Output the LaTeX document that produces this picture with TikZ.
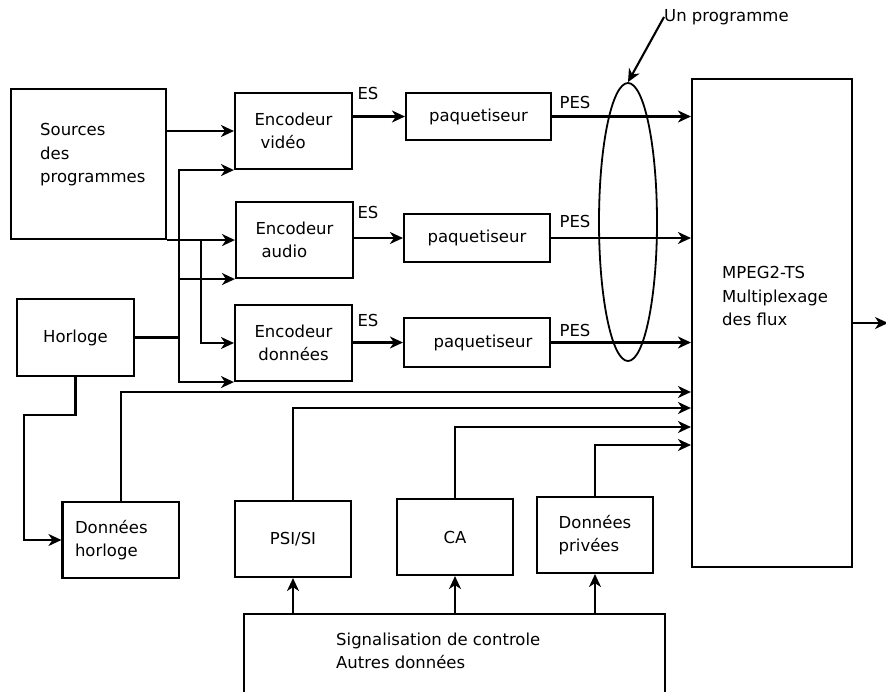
\documentclass[tikz,border=0pt]{standalone}
\usepackage{fontspec}
\setmainfont{DejaVu Sans}
\usetikzlibrary{arrows.meta,shapes.geometric}
\tikzset{
    box/.style={draw, line width=2.1pt, inner sep=2pt},
    lbl/.style={inner sep=0pt, align=left},
    wire/.style={line width=2.1pt},
    arr/.style={line width=2.1pt, -{Stealth[length=13pt,width=12pt,inset=4pt]}}
}

\begin{document}
\begin{tikzpicture}[x=1pt,y=-1pt,font=\fontsize{16.5}{23.5}\selectfont]
    \useasboundingbox (0,0) rectangle (886,691);
    \node[box, minimum width=155, minimum height=150] (src) at (88.5,164) {};
    \node[lbl, anchor=west] (srctxt) at (40,155) {Sources\\des\\programmes};
    \node[box, minimum width=117, minimum height=77] (hor) at (75.5,337.5) {Horloge};
    \node[box, minimum width=117, minimum height=76, align=left] (encV) at (293.5,131) {Encodeur\\\hspace*{6pt}vidéo};
    \node[box, minimum width=117, minimum height=76, align=left] (encA) at (294.5,240) {Encodeur\\\hspace*{6pt}audio};
    \node[box, minimum width=117, minimum height=76, align=center] (encD) at (293.5,343) {Encodeur\\données};
    \node[box, minimum width=145, minimum height=47] (paqV) at (478.5,116.5) {paquetiseur};
    \node[box, minimum width=146, minimum height=48] (paqA) at (477,238) {paquetiseur};
    \node[box, minimum width=146, minimum height=49] (paqD) at (477,342.5) {\hspace*{12pt}paquetiseur};
    \node[box, minimum width=160, minimum height=488] (mux) at (772,323) {};
    \node[lbl, anchor=west] (muxtxt) at (722,296) {MPEG2-TS\\Multiplexage\\des flux};
    \node[draw, ellipse, line width=1.8pt, inner sep=0pt, minimum width=58, minimum height=278] (prog) at (628,222) {};
    \node[lbl, anchor=west] (progtxt) at (664,17) {Un programme};
    \node[lbl] (esV) at (368,93) {ES};
    \node[lbl] (esA) at (368,212) {ES};
    \node[lbl] (esD) at (368,320) {ES};
    \node[lbl] (pesV) at (575,102) {PES};
    \node[lbl] (pesA) at (575,221) {PES};
    \node[lbl] (pesD) at (575,330) {PES};
    \node[box, align=left, text width=91.5, inner xsep=12.5, minimum height=76] (dh) at (120.75,540) {Données\\horloge};
    \node[box, minimum width=116, minimum height=76] (psi) at (293,539) {PSI/SI};
    \node[box, minimum width=116, minimum height=76] (ca) at (455,537) {CA};
    \node[box, minimum width=116, minimum height=76, align=left] (dp) at (595,535) {Données\\privées};
    \node[box, minimum width=421, minimum height=86] (sig) at (454.5,657) {};
    \node[lbl, anchor=west] (sigtxt) at (336,651) {Signalisation de controle\\Autres données};

    \coordinate (srcbus) at (201,239);
    \coordinate (horbus) at (179,337.5);
    \coordinate (hk) at (24,540);
    \coordinate (out) at (888,323);

    \draw[arr] (src.east |- encV.west) -- (encV.west);
    \draw[arr] (src.south east) -- (src.south east -| encA.west);
    \draw[arr] (srcbus) |- (encD.west);
    \draw[wire] (hor.east) -- (horbus);
    \draw[arr] (horbus) |- (encV.south west);
    \draw[arr] (horbus) |- (encD.south west);
    \draw[arr] (horbus |- encA.south west) -- (encA.south west);
    \draw[arr] (hor.south) -- ++(0,38) -| (hk) -- (dh.west);

    \draw[arr] (encV.east |- paqV.west) -- (paqV.west);
    \draw[arr] (encA.east |- paqA.west) -- (paqA.west);
    \draw[arr] (encD.east |- paqD.west) -- (paqD.west);
    \draw[arr] (paqV.east) -- (paqV.east -| mux.west);
    \draw[arr] (paqA.east) -- (paqA.east -| mux.west);
    \draw[arr] (paqD.east) -- (paqD.east -| mux.west);
    \draw[arr] (progtxt.west) -- (prog.north);

    \draw[arr] (dh.north) |- (mux.west |- 0,392);
    \draw[arr] (psi.north) |- (mux.west |- 0,408);
    \draw[arr] (ca.north) |- (mux.west |- 0,427);
    \draw[arr] (dp.north) |- (mux.west |- 0,445);
    \draw[arr] (sig.north -| psi.south) -- (psi.south);
    \draw[arr] (sig.north -| ca.south) -- (ca.south);
    \draw[arr] (sig.north -| dp.south) -- (dp.south);
    \draw[arr] (mux.east) -- (out);
\end{tikzpicture}
\end{document}
